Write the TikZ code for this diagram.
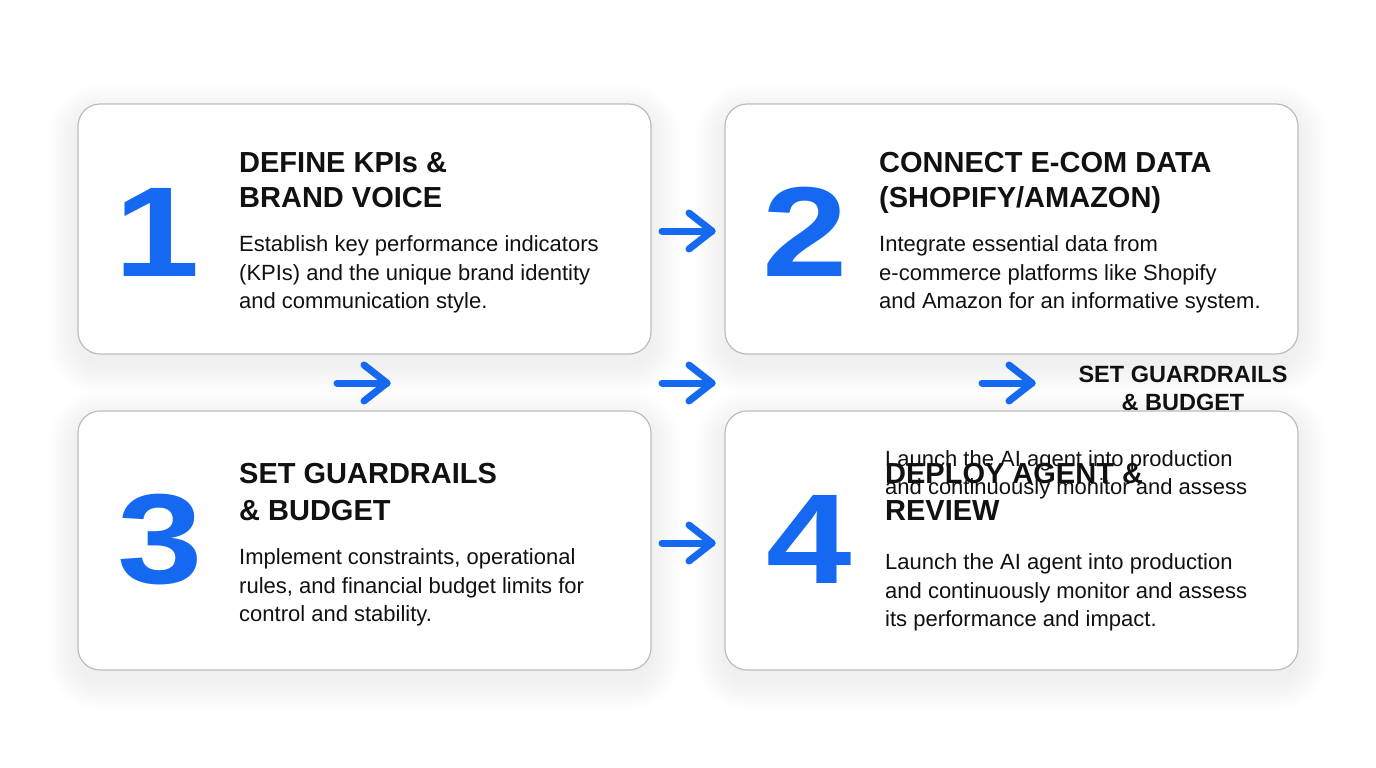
\documentclass[tikz,border=0pt]{standalone}
\usepackage{fontspec}
\setmainfont{Liberation Sans}
\usetikzlibrary{calc}
\definecolor{stepblue}{RGB}{21,104,240}
\definecolor{cardedge}{RGB}{188,188,188}
\definecolor{ink}{RGB}{17,17,17}
\newcommand{\widedigit}[1]{\scalebox{1.2}[1]{#1}}
\begin{document}
\begin{tikzpicture}[x=1pt,y=-1pt,
  card/.style={draw=cardedge, line width=1.2pt, fill=white, rounded corners=22pt},
  num/.style={anchor=base, inner sep=0pt, text=stepblue, font=\fontsize{128}{128}\selectfont\bfseries},
  head/.style={anchor=base west, inner sep=0pt, text=ink, font=\fontsize{29}{34}\selectfont\bfseries},
  sidehead/.style={anchor=base, inner sep=0pt, text=ink, font=\fontsize{23.5}{28}\selectfont\bfseries},
  body/.style={anchor=base west, inner sep=0pt, text=ink, font=\fontsize{22}{29}\selectfont},
  flow/.style={draw=stepblue, line width=7pt, line cap=round, line join=round}]
\useasboundingbox (0,0) rectangle (1376,768);
\fill[white] (0,0) rectangle (1376,768);

% card corners
\coordinate (c1nw) at (78,104);  \coordinate (c1se) at (651,354);
\coordinate (c2nw) at (725,104); \coordinate (c2se) at (1298,354);
\coordinate (c3nw) at (78,411);  \coordinate (c3se) at (651,670);
\coordinate (c4nw) at (725,411); \coordinate (c4se) at (1298,670);

% soft shadows
\foreach \c in {c1,c2,c3,c4}{
  \foreach \s in {2,4,...,30}{
    \pgfmathsetmacro{\rr}{22+\s}
    \fill[black, fill opacity=0.0042, rounded corners=\rr pt]
      ($(\c nw)+(-\s,-\s+10)$) rectangle ($(\c se)+(\s,\s+10)$);
  }
}

% cards 1-3
\draw[card] (c1nw) rectangle (c1se);
\draw[card] (c2nw) rectangle (c2se);
\draw[card] (c3nw) rectangle (c3se);

% card 1
\node[num] (n1) at (157,276) {\widedigit{1}};
\node[head] (h1a) at (239,172) {DEFINE KPIs \&};
\node[head] (h1b) at (239,207) {BRAND VOICE};
\node[body] (b1a) at (239,251) {Establish key performance indicators};
\node[body] (b1b) at (239,280) {(KPIs) and the unique brand identity};
\node[body] (b1c) at (239,308) {and communication style.};

% card 2
\node[num] (n2) at (805,276) {\widedigit{2}};
\node[head] (h2a) at (879,172) {CONNECT E-COM DATA};
\node[head] (h2b) at (879,207) {(SHOPIFY/AMAZON)};
\node[body] (b2a) at (879,251) {Integrate essential data from};
\node[body] (b2b) at (879,280) {e-commerce platforms like Shopify};
\node[body] (b2c) at (879,308) {and Amazon for an informative system.};

% card 3
\node[num] (n3) at (160,583) {\widedigit{3}};
\node[head] (h3a) at (239,483) {SET GUARDRAILS};
\node[head] (h3b) at (239,520) {\& BUDGET};
\node[body] (b3a) at (239,564) {Implement constraints, operational};
\node[body] (b3b) at (239,593) {rules, and financial budget limits for};
\node[body] (b3c) at (239,621) {control and stability.};

% stray side heading (partly under card 4)
\node[sidehead] (sh1) at (1183,382) {SET GUARDRAILS};
\node[sidehead] (sh2) at (1183,410) {\& BUDGET};

% arrows
\coordinate (a1s) at (662,231); \coordinate (a1e) at (712,231);
\coordinate (a2s) at (337,383); \coordinate (a2e) at (387,383);
\coordinate (a3s) at (662,383); \coordinate (a3e) at (712,383);
\coordinate (a4s) at (982,383); \coordinate (a4e) at (1032,383);
\coordinate (a5s) at (662,543); \coordinate (a5e) at (712,543);
\foreach \a in {a1,a2,a3,a4,a5}{
  \draw[flow] (\a s) -- (\a e);
  \draw[flow] ($(\a e)+(-23,-18)$) -- (\a e) -- ($(\a e)+(-23,18)$);
}

% card 4
\draw[card] (c4nw) rectangle (c4se);
\node[num] (n4) at (809,583) {\widedigit{4}};
\node[body] (o4a) at (885,466) {Launch the AI agent into production};
\node[body] (o4b) at (885,494) {and continuously monitor and assess};
\node[head] (h4a) at (885,483) {DEPLOY AGENT \&};
\node[head] (h4b) at (885,520) {REVIEW};
\node[body] (b4a) at (885,569) {Launch the AI agent into production};
\node[body] (b4b) at (885,598) {and continuously monitor and assess};
\node[body] (b4c) at (885,626) {its performance and impact.};
\end{tikzpicture}
\end{document}
